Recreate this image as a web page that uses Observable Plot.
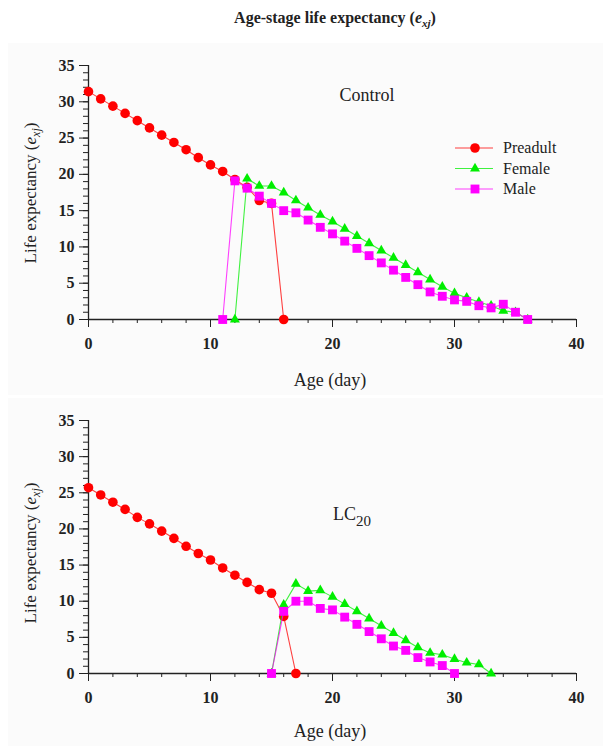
<!DOCTYPE html>
<html>
<head>
<meta charset="utf-8">
<script src="https://cdn.jsdelivr.net/npm/d3@7"></script>
<script src="https://cdn.jsdelivr.net/npm/@observablehq/plot@0.6"></script>
<style>
  html, body { margin: 0; padding: 0; background: #ffffff; }
  #page { position: relative; width: 603px; height: 746px; overflow: hidden; font-family: "Liberation Serif", "Times New Roman", serif; }
  #title { position: absolute; top: 9px; left: 0; width: 670px; text-align: center; font-weight: bold; font-size: 16px; color: #222; }
  .panel { position: absolute; left: 0; width: 603px; }
  .panel-bg { position: absolute; left: 8px; right: 0; background: #fbfbfb; }
  .panel svg text { font-family: "Liberation Serif", "Times New Roman", serif; }
</style>
</head>
<body>
<div id="page">
  <div class="panel-bg" style="top:43px;height:352px"></div>
  <div class="panel-bg" style="top:398px;height:348px"></div>
  <div id="title">Age-stage life expectancy (<i>e</i><sub style="font-size:11px"><i>xj</i></sub>)</div>
  <div class="panel" id="p1" style="top:45px"></div>
  <div class="panel" id="p2" style="top:400px"></div>
</div>
<script>
// Age (day) and life expectancy e_xj by stage — Control
const ctrlPreadultAge = [0,1,2,3,4,5,6,7,8,9,10,11,12,13,14,15,16];
const ctrlPreadult    = [31.4,30.4,29.4,28.4,27.4,26.4,25.4,24.4,23.4,22.3,21.3,20.4,19.3,18.2,16.4,16.0,0];
const ctrlFemaleAge   = [12,13,14,15,16,17,18,19,20,21,22,23,24,25,26,27,28,29,30,31,32,33,34,35,36];
const ctrlFemale      = [0,19.4,18.4,18.4,17.5,16.4,15.4,14.4,13.5,12.5,11.5,10.5,9.5,8.5,7.5,6.5,5.5,4.5,3.6,3.0,2.4,1.9,1.2,1.0,0];
const ctrlMaleAge     = [11,12,13,14,15,16,17,18,19,20,21,22,23,24,25,26,27,28,29,30,31,32,33,34,35,36];
const ctrlMale        = [0,19.1,18.1,17.0,16.0,15.0,14.7,13.7,12.7,11.8,10.8,9.8,8.8,7.8,6.8,5.8,4.8,3.8,3.2,2.7,2.5,1.9,1.6,2.1,1.0,0];

// LC20 treatment
const lcPreadultAge = [0,1,2,3,4,5,6,7,8,9,10,11,12,13,14,15,16,17];
const lcPreadult    = [25.7,24.7,23.7,22.7,21.6,20.7,19.7,18.7,17.6,16.6,15.7,14.6,13.6,12.6,11.6,11.1,7.9,0];
const lcFemaleAge   = [15,16,17,18,19,20,21,22,23,24,25,26,27,28,29,30,31,32,33];
const lcFemale      = [0,9.5,12.4,11.4,11.5,10.6,9.6,8.6,7.6,6.6,5.6,4.6,3.6,2.85,2.6,2.0,1.5,1.25,0];
const lcMaleAge     = [15,16,17,18,19,20,21,22,23,24,25,26,27,28,29,30];
const lcMale        = [0,8.6,10.0,10.0,9.0,8.8,7.8,6.8,5.8,4.8,3.8,3.2,2.2,1.6,1.1,0];

const stages = ["Preadult", "Female", "Male"];
const stageColor = {Preadult: "#ff0000", Female: "#00ee00", Male: "#ff00ff"};
const stageSymbol = {Preadult: "circle", Female: "triangle", Male: "square"};
const stageR = {Preadult: 4.8, Female: 3.7, Male: 5.0};

const xMajor = [0,10,20,30,40];
const xMinor = [0,2,4,6,8,10,12,14,16,18,20,22,24,26,28,30,32,34,36,38,40];
const yMajor = [0,5,10,15,20,25,30,35];
const yMinor = [0,1,2,3,4,5,6,7,8,9,10,11,12,13,14,15,16,17,18,19,20,21,22,23,24,25,26,27,28,29,30,31,32,33,34,35];

const serif = "Liberation Serif, Times New Roman, serif";

function rows(stage, ages, values) {
  return ages.map((a, i) => ({stage, age: a, e: values[i]}));
}

function panel(series, height, marginBottom) {
  const marks = [
    Plot.axisY({ticks: yMinor, tickSize: 5, tickFormat: () => "", label: null, stroke: "#222"}),
    Plot.axisY({ticks: yMajor, tickSize: 9, tickPadding: 5, label: null, fontFamily: serif, fontWeight: "bold", fontSize: 16, fill: "#222", stroke: "#222"}),
    Plot.axisX({ticks: xMinor, tickSize: 4, tickFormat: () => "", label: null, stroke: "#222"}),
    Plot.axisX({ticks: xMajor, tickSize: 8, tickPadding: 10, label: null, fontFamily: serif, fontWeight: "bold", fontSize: 16, fill: "#222", stroke: "#222"}),
    Plot.ruleX([0], {stroke: "#222", strokeWidth: 1.3}),
    Plot.ruleY([0], {stroke: "#222", strokeWidth: 1.3})
  ];
  for (const s of stages) {
    const d = series[s];
    marks.push(Plot.line(d, {x: "age", y: "e", stroke: stageColor[s], strokeWidth: 1.1, strokeOpacity: 0.75}));
    marks.push(Plot.dot(d, {x: "age", y: "e", fill: stageColor[s], symbol: stageSymbol[s], r: stageR[s], stroke: "none"}));
  }
  return Plot.plot({
    width: 603,
    height,
    marginLeft: 88,
    marginRight: 27,
    marginTop: 20,
    marginBottom,
    style: {background: "transparent", fontFamily: serif, overflow: "visible"},
    x: {domain: [0, 40]},
    y: {domain: [0, 35]},
    marks
  });
}

function addYLabel(svg, cy) {
  const t = svg.append("text")
    .attr("transform", `translate(36,${cy}) rotate(-90)`)
    .attr("text-anchor", "middle")
    .attr("font-family", serif)
    .attr("font-size", 17)
    .attr("fill", "#222");
  t.append("tspan").text("Life expectancy (");
  t.append("tspan").attr("font-style", "italic").text("e");
  t.append("tspan").attr("font-style", "italic").attr("font-size", 12).attr("dy", 4).text("xj");
  t.append("tspan").attr("dy", -4).text(")");
}

function addXLabel(svg, y) {
  svg.append("text")
    .attr("x", 330).attr("y", y)
    .attr("text-anchor", "middle")
    .attr("font-family", serif)
    .attr("font-size", 18)
    .attr("fill", "#222")
    .text("Age (day)");
}

// Control panel
const p1 = panel({
  Preadult: rows("Preadult", ctrlPreadultAge, ctrlPreadult),
  Female: rows("Female", ctrlFemaleAge, ctrlFemale),
  Male: rows("Male", ctrlMaleAge, ctrlMale)
}, 350, 76);
document.getElementById("p1").append(p1);
const s1 = d3.select(p1);
addYLabel(s1, 148);
addXLabel(s1, 341);
s1.append("text").attr("x", 367).attr("y", 56).attr("text-anchor", "middle")
  .attr("font-family", serif).attr("font-size", 18).attr("fill", "#222").text("Control");

// Legend
const legend = s1.append("g").attr("transform", "translate(455,103)");
stages.forEach((s, i) => {
  const g = legend.append("g").attr("transform", `translate(0,${i * 20.5})`);
  g.append("line").attr("x1", 0).attr("x2", 38).attr("y1", 0).attr("y2", 0)
    .attr("stroke", stageColor[s]).attr("stroke-width", 1.1).attr("stroke-opacity", 0.75);
  g.append("path").attr("transform", "translate(20,0)")
    .attr("d", d3.symbol(s === "Preadult" ? d3.symbolCircle : s === "Female" ? d3.symbolTriangle : d3.symbolSquare,
      Math.PI * stageR[s] * stageR[s])())
    .attr("fill", stageColor[s]);
  g.append("text").attr("x", 48).attr("y", 5).attr("text-anchor", "start")
    .attr("font-family", serif).attr("font-size", 16)
    .attr("fill", "#222").text(s);
});

// LC20 panel
const p2 = panel({
  Preadult: rows("Preadult", lcPreadultAge, lcPreadult),
  Female: rows("Female", lcFemaleAge, lcFemale),
  Male: rows("Male", lcMaleAge, lcMale)
}, 346, 73);
document.getElementById("p2").append(p2);
const s2 = d3.select(p2);
addYLabel(s2, 153);
addXLabel(s2, 337);
const lc = s2.append("text").attr("x", 333).attr("y", 120).attr("text-anchor", "start")
  .attr("font-family", serif).attr("font-size", 18).attr("fill", "#222");
lc.append("tspan").text("LC");
lc.append("tspan").attr("font-size", 15).attr("dy", 6).text("20");
</script>
</body>
</html>
